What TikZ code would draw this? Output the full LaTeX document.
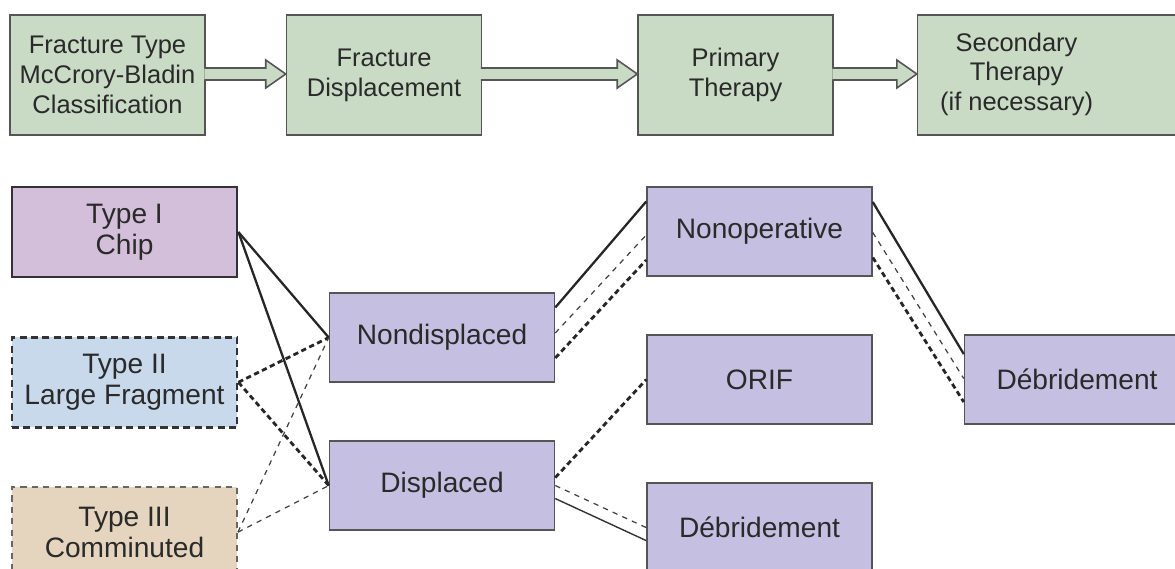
\documentclass[tikz,border=0pt]{standalone}
\usepackage{fontspec}
\setmainfont{Liberation Sans}
\usetikzlibrary{positioning}

\definecolor{stagegreen}{RGB}{201,219,197}
\definecolor{optpurple}{RGB}{197,192,226}
\definecolor{chippink}{RGB}{212,191,219}
\definecolor{fragblue}{RGB}{199,217,234}
\definecolor{commtan}{RGB}{229,213,190}
\definecolor{boxgray}{RGB}{85,85,85}
\definecolor{inkgray}{RGB}{42,42,42}

\begin{document}
\begin{tikzpicture}[x=0.02cm, y=-0.02cm, node distance=1.15cm,
    every node/.style={font=\fontsize{16}{17.5}\selectfont, text=inkgray},
    stagebox/.style={draw=boxgray, line width=0.9pt, fill=stagegreen, minimum width=3.9cm, minimum height=2.4cm, align=center, font=\fontsize{14.5}{17}\selectfont},
    optbox/.style={draw=boxgray, line width=0.9pt, fill=optpurple, minimum width=4.5cm, minimum height=1.78cm, align=center},
    typebox/.style={minimum width=4.5cm, minimum height=1.8cm, align=center},
    solidlink/.style={draw=black!85, line width=1.3pt},
    thinlink/.style={draw=black!80, line width=0.8pt},
    thickdash/.style={draw=black!85, line width=1.6pt, dash pattern=on 3pt off 2pt},
    thindash/.style={draw=black!75, line width=0.7pt, dash pattern=on 3pt off 3pt}]
    \useasboundingbox (0,0) rectangle (1175,568);
    \clip (0,0) rectangle (1175,568);

    % stages along the top
    \node[stagebox] (fxtype) at (107.5,75) {Fracture Type\\McCrory-Bladin\\Classification};
    \node[stagebox, right=1.6cm of fxtype] (fxdisp) {Fracture\\Displacement};
    \node[stagebox, right=3.1cm of fxdisp] (primary) {Primary\\Therapy};
    \node[stagebox, right=1.66cm of primary, minimum width=5.66cm] (secondary)
        {\begin{tabular}{@{}c@{}}Secondary\\Therapy\\(if necessary)\end{tabular}\kern1.7cm};

    \foreach \a/\b in {fxtype/fxdisp, fxdisp/primary, primary/secondary}
        \filldraw[fill=stagegreen, draw=boxgray, line width=0.9pt]
            ([xshift=-0.8pt, yshift=0.14cm]\a.east) -- ([xshift=-0.4cm, yshift=0.14cm]\b.west)
            -- ([xshift=-0.4cm, yshift=0.3cm]\b.west) -- ([yshift=0.02cm]\b.west)
            -- ([xshift=-0.4cm, yshift=-0.26cm]\b.west) -- ([xshift=-0.4cm, yshift=-0.1cm]\b.west)
            -- ([xshift=-0.8pt, yshift=-0.1cm]\a.east);

    % fracture types
    \node[typebox, draw=black!80, line width=1.6pt, fill=chippink] (chip) at (124.5,232) {Type I\\Chip};
    \node[typebox, draw=black!80, line width=1.6pt, dash pattern=on 4pt off 2.5pt, fill=fragblue, below=of chip] (frag) {Type II\\Large Fragment};
    \node[typebox, draw=black!60, line width=1.1pt, dash pattern=on 3.5pt off 3pt, fill=commtan, below=of frag] (comm) {Type III\\Comminuted};

    % displacement and therapy
    \node[optbox] (nondisp) at (442,337.5) {Nondisplaced};
    \node[optbox, below=of nondisp] (disp) {Displaced};
    \node[optbox] (nonop) at (759.5,231.5) {Nonoperative};
    \node[optbox, below=of nonop] (orif) {ORIF};
    \node[optbox, below=of orif] (debr) {Débridement};
    \node[optbox, right=1.82cm of orif] (debrlate) {Débridement};

    \draw[solidlink] (chip.east) -- (nondisp.west);
    \draw[solidlink] (chip.east) -- (disp.west);
    \draw[thickdash] (frag.east) -- (nondisp.west);
    \draw[thickdash] (frag.east) -- (disp.west);
    \draw[thindash] (comm.east) -- (nondisp.west);
    \draw[thindash] (comm.east) -- (disp.west);

    \draw[solidlink] ([yshift=0.6cm]nondisp.east) -- ([yshift=0.6cm]nonop.west);
    \draw[thindash] ([yshift=0.09cm]nondisp.east) -- ([yshift=-0.07cm]nonop.west);
    \draw[thickdash] ([yshift=-0.41cm]nondisp.east) -- ([yshift=-0.57cm]nonop.west);

    \draw[thickdash] ([yshift=0.16cm]disp.east) -- (orif.west);
    \draw[thindash] (disp.east) -- (debr.west);
    \draw[thinlink] ([yshift=-0.26cm]disp.east) -- ([yshift=-0.26cm]debr.west);

    \draw[solidlink] ([yshift=0.59cm]nonop.east) -- ([yshift=0.51cm]debrlate.west);
    \draw[thindash] ([yshift=-0.02cm]nonop.east) -- ([yshift=0.02cm]debrlate.west);
    \draw[thickdash] ([yshift=-0.52cm]nonop.east) -- ([yshift=-0.45cm]debrlate.west);
\end{tikzpicture}
\end{document}
